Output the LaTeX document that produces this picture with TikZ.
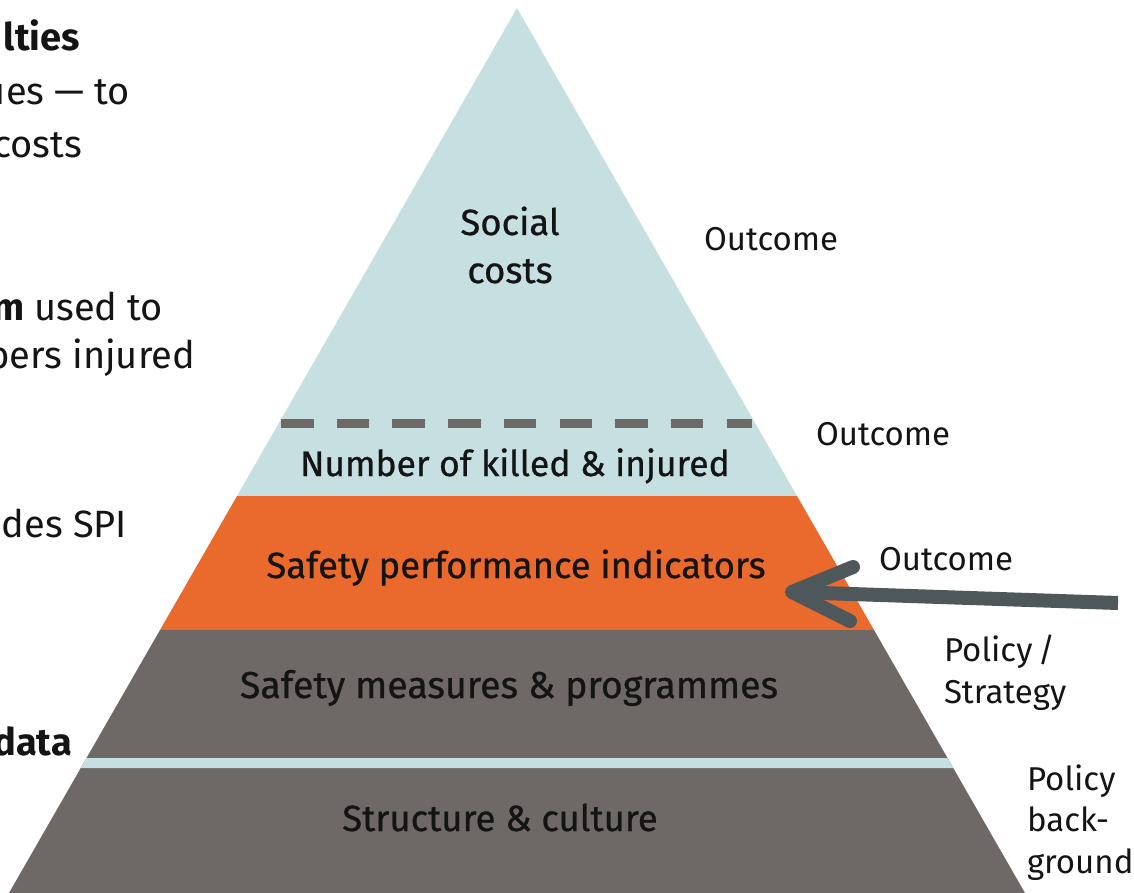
\documentclass[tikz,border=0pt]{standalone}
\usepackage{fontspec}
\setmainfont{Fira Sans}
\newfontfamily\pfont{Fira Sans}[FakeBold=0.7]
\definecolor{pblue}{HTML}{C6DFE1}
\definecolor{porange}{HTML}{EA692C}
\definecolor{pgray}{HTML}{6E6966}
\definecolor{parrow}{HTML}{4E585A}
\definecolor{ptext}{HTML}{141414}
\begin{document}
\begin{tikzpicture}[x=1pt,y=-1pt,
  every node/.style={inner sep=0pt, outer sep=0pt, text=ptext},
  plabel/.style={anchor=base, font=\pfont\fontsize{36.5}{48}\selectfont, align=center},
  rlabel/.style={anchor=base west, font=\fontsize{33}{41.5}\selectfont, align=left},
  llabel/.style={anchor=base east, font=\fontsize{38}{54}\selectfont},
  arrowline/.style={draw=parrow, line width=14pt, line join=round}]
\useasboundingbox (0,0) rectangle (1134,893);
\clip (0,0) rectangle (1134,893);
% pyramid bands
\fill[pblue] (517,8) -- (797,496) -- (237,496) -- cycle;
\fill[porange] (237,496) -- (797,496) -- (874,630) -- (160,630) -- cycle;
\fill[pgray] (160,630) -- (874,630) -- (1025,893) -- (9,893) -- cycle;
\fill[pblue] (86.5,758) -- (947.5,758) -- (953.2,768) -- (80.8,768) -- cycle;
\draw[pgray, line width=9pt, dash pattern=on 32.5pt off 23.2pt] (281,423) -- (752,423);
% pyramid labels (multi-line nodes: base = last line)
\node[plabel] (social) at (510,283) {Social\\costs};
\node[plabel, font=\pfont\fontsize{35.5}{48}\selectfont] (killed) at (515,476) {Number of killed \& injured};
\node[plabel] (spi) at (516,578) {Safety performance indicators};
\node[plabel, font=\pfont\fontsize{37.5}{48}\selectfont] (measures) at (509,698) {Safety measures \& programmes};
\node[plabel] (structure) at (500,831) {Structure \& culture};
% right labels
\node[rlabel] (o1) at (704,251) {Outcome};
\node[rlabel] (o2) at (816,445) {Outcome};
\node[rlabel] (o3) at (879,570) {Outcome};
\node[rlabel] (ps) at (944,703) {Policy\,/\\Strategy};
\node[rlabel] (pb) at (1027,873) {Policy\\back-\\ground};
% left text fragments (cut by the picture's left edge, as in the reference)
\node[llabel] (l1) at (80,51) {\textbf{lties}};
\node[llabel] (l2) at (130,105) {ues — to};
\node[llabel] (l3) at (82,158) {costs};
\node[llabel] (l4) at (163,320) {\textbf{m} used to};
\node[llabel] (l5) at (195,368) {bers injured};
\node[llabel] (l6) at (127,537) {des SPI};
\node[llabel] (l7) at (72,755) {\textbf{data}};
% arrow
\coordinate (atail) at (1118,603);
\coordinate (atip) at (792,592);
\coordinate (aup) at (853,567);
\coordinate (alow) at (850,621);
\draw[arrowline, line cap=butt] (atail) -- (atip);
\draw[arrowline, line cap=round] (aup) -- (atip) -- (alow);
\end{tikzpicture}
\end{document}
